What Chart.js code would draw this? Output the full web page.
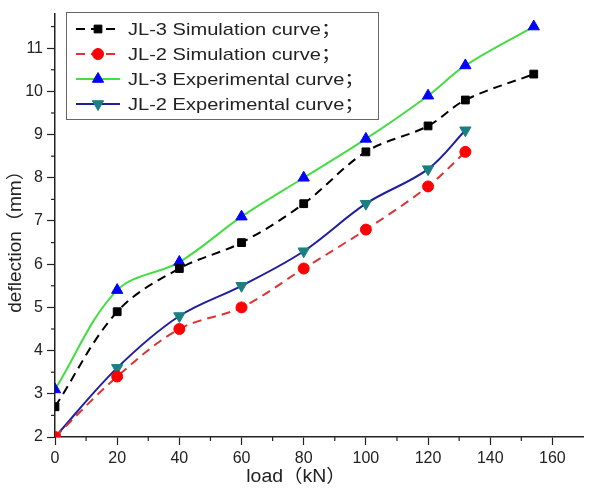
<!DOCTYPE html>
<html>
<head>
<meta charset="utf-8">
<script src="https://cdn.jsdelivr.net/npm/chart.js@4.4.1/dist/chart.umd.min.js"></script>
<style>
  body { margin: 0; background: #fff; }
  canvas { display: block; }
</style>
</head>
<body>
<canvas id="deflectionChart" width="591" height="488"></canvas>
<script>
// Data
const loadJL3 = [0, 20, 40, 60, 80, 100, 120, 132, 154];
const loadJL2 = [0, 20, 40, 60, 80, 100, 120, 132];
const jl3Simulation = [2.7, 4.9, 5.9, 6.5, 7.4, 8.6, 9.2, 9.8, 10.4];
const jl2Simulation = [2.0, 3.4, 4.5, 5.0, 5.9, 6.8, 7.8, 8.6];
const jl3Experimental = [3.1, 5.4, 6.05, 7.1, 8.0, 8.9, 9.9, 10.6, 11.5];
const jl2Experimental = [2.0, 3.6, 4.8, 5.5, 6.3, 7.4, 8.2, 9.1];
const seriesLabels = [
  "JL-3 Simulation curve；",
  "JL-2 Simulation curve；",
  "JL-3 Experimental curve；",
  "JL-2 Experimental curve；",
];
const xTitle = "load（kN）";
const yTitle = "deflection（mm）";

const FONT = "'Liberation Sans', Arial, 'Noto Sans CJK SC', sans-serif";

function toPoints(xs, ys) {
  return xs.map((x, i) => ({ x: x, y: ys[i] }));
}

// text is a bit wider in the reference, so stretch it horizontally
function wideText(ctx, text, x, y, stretch) {
  ctx.save();
  ctx.translate(x, y);
  ctx.scale(stretch, 1);
  ctx.fillText(text, 0, 0);
  ctx.restore();
}

// minor ticks, axis titles and the boxed legend inside the plot
const extrasPlugin = {
  id: "extras",
  afterDraw(chart) {
    const ctx = chart.ctx;
    const xs = chart.scales.x;
    const ys = chart.scales.y;
    const area = chart.chartArea;
    ctx.save();

    // minor ticks
    ctx.strokeStyle = "#222";
    ctx.lineWidth = 1.2;
    for (let v = 10; v < 170; v += 20) {
      const px = xs.getPixelForValue(v);
      ctx.beginPath();
      ctx.moveTo(px, area.bottom);
      ctx.lineTo(px, area.bottom + 4);
      ctx.stroke();
    }
    for (let v = 2.5; v < 11.8; v += 1) {
      const py = ys.getPixelForValue(v);
      ctx.beginPath();
      ctx.moveTo(area.left, py);
      ctx.lineTo(area.left - 4, py);
      ctx.stroke();
    }

    // axis titles
    ctx.fillStyle = "#222";
    ctx.font = "18px " + FONT;
    ctx.textAlign = "center";
    ctx.textBaseline = "middle";
    wideText(ctx, xTitle, 296, 477, 1.08);
    ctx.save();
    ctx.translate(16, 237);
    ctx.rotate(-Math.PI / 2);
    wideText(ctx, yTitle, 0, 0, 1.06);
    ctx.restore();

    // legend box
    ctx.fillStyle = "#fff";
    ctx.fillRect(66, 12, 312, 107);
    ctx.strokeStyle = "#666";
    ctx.lineWidth = 1;
    ctx.strokeRect(66.5, 12.5, 312, 107);

    chart.data.datasets.forEach((ds, i) => {
      const cy = 29 + i * 25;
      ctx.strokeStyle = ds.borderColor;
      ctx.lineWidth = 2;
      ctx.setLineDash(ds.borderDash || []);
      ctx.beginPath();
      ctx.moveTo(76, cy);
      ctx.lineTo(120, cy);
      ctx.stroke();
      ctx.setLineDash([]);
      // marker in the middle of the sample line
      ctx.fillStyle = ds.pointBackgroundColor;
      ctx.strokeStyle = ds.pointBorderColor;
      ctx.lineWidth = 1;
      Chart.helpers.drawPoint(ctx, {
        pointStyle: ds.pointStyle,
        rotation: ds.pointRotation || 0,
        radius: ds.pointRadius,
        borderWidth: 1,
      }, 98, cy);
      ctx.fillStyle = "#222";
      ctx.font = "17px " + FONT;
      ctx.textAlign = "left";
      wideText(ctx, ds.label, 128, cy + 1, 1.18);
    });
    ctx.restore();
  },
};

const baseLine = {
  showLine: true,
  borderWidth: 2,
  tension: 0.35,
  pointBorderWidth: 1,
  fill: false,
};

new Chart(document.getElementById("deflectionChart"), {
  type: "scatter",
  data: {
    datasets: [
      {
        ...baseLine,
        label: seriesLabels[0],
        data: toPoints(loadJL3, jl3Simulation),
        borderColor: "#000000",
        borderDash: [9, 6],
        pointStyle: "rect",
        pointRadius: 5.5,
        pointBackgroundColor: "#000000",
        pointBorderColor: "#000000",
      },
      {
        ...baseLine,
        label: seriesLabels[1],
        data: toPoints(loadJL2, jl2Simulation),
        borderColor: "#dd3333",
        borderDash: [9, 6],
        pointStyle: "circle",
        pointRadius: 5.5,
        pointBackgroundColor: "#ff0000",
        pointBorderColor: "#ff0000",
      },
      {
        ...baseLine,
        label: seriesLabels[2],
        data: toPoints(loadJL3, jl3Experimental),
        borderColor: "#44dd44",
        pointStyle: "triangle",
        pointRadius: 6.5,
        pointBackgroundColor: "#0000ff",
        pointBorderColor: "#0000ff",
      },
      {
        ...baseLine,
        label: seriesLabels[3],
        data: toPoints(loadJL2, jl2Experimental),
        borderColor: "#1f1f9f",
        pointStyle: "triangle",
        pointRotation: 180,
        pointRadius: 6.5,
        pointBackgroundColor: "#1a7f80",
        pointBorderColor: "#1a7f80",
      },
    ],
  },
  options: {
    responsive: false,
    animation: false,
    layout: { padding: { top: 3, right: 0, left: 0, bottom: 0 } },
    plugins: {
      legend: { display: false },
      tooltip: { enabled: false },
      title: { display: false },
    },
    scales: {
      x: {
        type: "linear",
        min: 0,
        max: 170,
        afterFit: (s) => { s.height = 51; },
        afterBuildTicks: (s) => { s.ticks = s.ticks.filter((t) => t.value % 20 === 0); },
        ticks: {
          stepSize: 10,
          autoSkip: false,
          color: "#222",
          padding: 4,
          maxRotation: 0,
          font: { family: FONT, size: 16 },
        },
        grid: {
          drawOnChartArea: false,
          drawTicks: true,
          tickLength: 8,
          tickColor: "#222",
          tickWidth: 1.2,
        },
        border: { color: "#222", width: 1.5 },
      },
      y: {
        type: "linear",
        min: 2,
        max: 11.8,
        afterFit: (s) => { s.width = 55; },
        afterBuildTicks: (s) => { s.ticks = s.ticks.filter((t) => Number.isInteger(t.value)); },
        ticks: {
          stepSize: 1,
          autoSkip: false,
          color: "#222",
          padding: 4,
          font: { family: FONT, size: 16 },
        },
        grid: {
          drawOnChartArea: false,
          drawTicks: true,
          tickLength: 8,
          tickColor: "#222",
          tickWidth: 1.2,
        },
        border: { color: "#222", width: 1.5 },
      },
    },
  },
  plugins: [extrasPlugin],
});
</script>
</body>
</html>
